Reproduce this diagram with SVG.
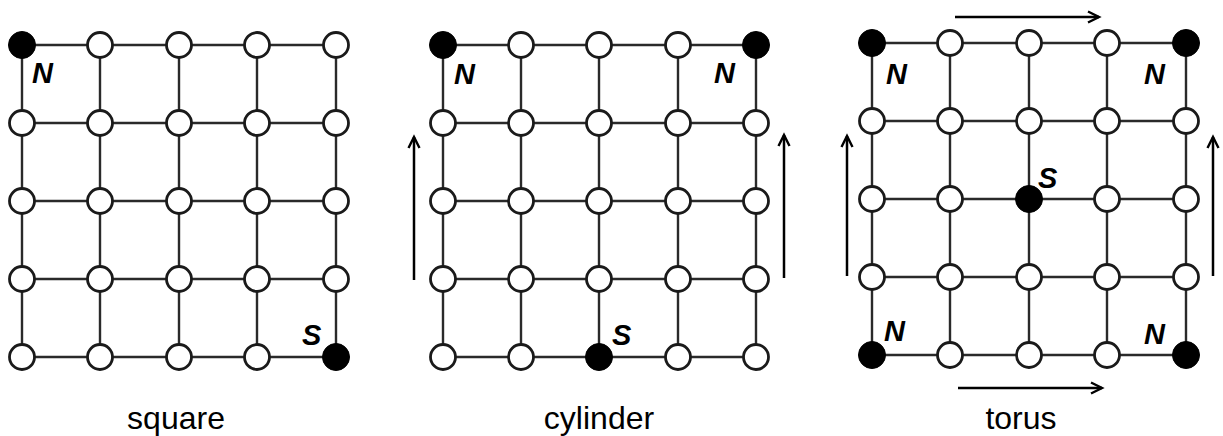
<svg xmlns="http://www.w3.org/2000/svg" width="1223" height="436" viewBox="0 0 1223 436">
<style>
.e{stroke:#2a2a2a;stroke-width:2.4;fill:none}
.n{fill:#fff;stroke:#1a1a1a;stroke-width:2.8}
.b{fill:#000;stroke:#000;stroke-width:1}
.a{stroke:#000;stroke-width:2.5;fill:none;marker-end:url(#ah)}
.lab{font-family:"Liberation Sans",Arial,sans-serif;font-weight:bold;font-style:italic;font-size:29px;fill:#000}
.cap{font-family:"Liberation Sans",Arial,sans-serif;font-size:32px;fill:#000;text-anchor:middle}
</style>
<defs>
<marker id="ah" markerUnits="userSpaceOnUse" markerWidth="16" markerHeight="16" viewBox="-12 -8 14 16" refX="0" refY="0" orient="auto">
<path d="M-11,-5.5 L0,0 L-11,5.5" fill="none" stroke="#000" stroke-width="2.4"/>
</marker>
</defs>
<rect width="1223" height="436" fill="#fff"/>
<g id="connectors">
<path class="e" d="M22,45H336M22,123H336M22,201H336M22,279H336M22,357H336M22,45V357M100,45V357M179,45V357M257,45V357M336,45V357"/>
<path class="e" d="M443,45H756M443,123H756M443,201H756M443,279H756M443,357H756M443,45V357M521,45V357M599,45V357M678,45V357M756,45V357"/>
<path class="e" d="M872,43H1186M872,121H1186M872,199H1186M872,277H1186M872,355H1186M872,43V355M950,43V355M1029,43V355M1107,43V355M1186,43V355"/>
<line class="a" x1="414" y1="280" x2="414" y2="137"/>
<line class="a" x1="784" y1="278" x2="784" y2="135"/>
<line class="a" x1="847" y1="276" x2="847" y2="136"/>
<line class="a" x1="1213" y1="276" x2="1213" y2="137"/>
<line class="a" x1="955" y1="17" x2="1099" y2="17"/>
<line class="a" x1="958" y1="388" x2="1102" y2="388"/>
</g>
<g id="square">
<g id="sq-r0"><circle class="b" cx="22" cy="45" r="13.5"/><circle class="n" cx="100" cy="45" r="12.5"/><circle class="n" cx="179" cy="45" r="12.5"/><circle class="n" cx="257" cy="45" r="12.5"/><circle class="n" cx="336" cy="45" r="12.5"/></g>
<g id="sq-r1"><circle class="n" cx="22" cy="123" r="12.5"/><circle class="n" cx="100" cy="123" r="12.5"/><circle class="n" cx="179" cy="123" r="12.5"/><circle class="n" cx="257" cy="123" r="12.5"/><circle class="n" cx="336" cy="123" r="12.5"/></g>
<g id="sq-r2"><circle class="n" cx="22" cy="201" r="12.5"/><circle class="n" cx="100" cy="201" r="12.5"/><circle class="n" cx="179" cy="201" r="12.5"/><circle class="n" cx="257" cy="201" r="12.5"/><circle class="n" cx="336" cy="201" r="12.5"/></g>
<g id="sq-r3"><circle class="n" cx="22" cy="279" r="12.5"/><circle class="n" cx="100" cy="279" r="12.5"/><circle class="n" cx="179" cy="279" r="12.5"/><circle class="n" cx="257" cy="279" r="12.5"/><circle class="n" cx="336" cy="279" r="12.5"/></g>
<g id="sq-r4"><circle class="n" cx="22" cy="357" r="12.5"/><circle class="n" cx="100" cy="357" r="12.5"/><circle class="n" cx="179" cy="357" r="12.5"/><circle class="n" cx="257" cy="357" r="12.5"/><circle class="b" cx="336" cy="357" r="13.5"/></g>
<text class="lab" x="32" y="83">N</text>
<text class="lab" x="302" y="345">S</text>
<text class="cap" x="176" y="429">square</text>
</g>
<g id="cylinder">
<g id="cy-r0"><circle class="b" cx="443" cy="45" r="13.5"/><circle class="n" cx="521" cy="45" r="12.5"/><circle class="n" cx="599" cy="45" r="12.5"/><circle class="n" cx="678" cy="45" r="12.5"/><circle class="b" cx="756" cy="45" r="13.5"/></g>
<g id="cy-r1"><circle class="n" cx="443" cy="123" r="12.5"/><circle class="n" cx="521" cy="123" r="12.5"/><circle class="n" cx="599" cy="123" r="12.5"/><circle class="n" cx="678" cy="123" r="12.5"/><circle class="n" cx="756" cy="123" r="12.5"/></g>
<g id="cy-r2"><circle class="n" cx="443" cy="201" r="12.5"/><circle class="n" cx="521" cy="201" r="12.5"/><circle class="n" cx="599" cy="201" r="12.5"/><circle class="n" cx="678" cy="201" r="12.5"/><circle class="n" cx="756" cy="201" r="12.5"/></g>
<g id="cy-r3"><circle class="n" cx="443" cy="279" r="12.5"/><circle class="n" cx="521" cy="279" r="12.5"/><circle class="n" cx="599" cy="279" r="12.5"/><circle class="n" cx="678" cy="279" r="12.5"/><circle class="n" cx="756" cy="279" r="12.5"/></g>
<g id="cy-r4"><circle class="n" cx="443" cy="357" r="12.5"/><circle class="n" cx="521" cy="357" r="12.5"/><circle class="b" cx="599" cy="357" r="13.5"/><circle class="n" cx="678" cy="357" r="12.5"/><circle class="n" cx="756" cy="357" r="12.5"/></g>
<text class="lab" x="454" y="84">N</text>
<text class="lab" x="714" y="83">N</text>
<text class="lab" x="612" y="345">S</text>
<text class="cap" x="599" y="429">cylinder</text>
</g>
<g id="torus">
<g id="to-r0"><circle class="b" cx="872" cy="43" r="13.5"/><circle class="n" cx="950" cy="43" r="12.5"/><circle class="n" cx="1029" cy="43" r="12.5"/><circle class="n" cx="1107" cy="43" r="12.5"/><circle class="b" cx="1186" cy="43" r="13.5"/></g>
<g id="to-r1"><circle class="n" cx="872" cy="121" r="12.5"/><circle class="n" cx="950" cy="121" r="12.5"/><circle class="n" cx="1029" cy="121" r="12.5"/><circle class="n" cx="1107" cy="121" r="12.5"/><circle class="n" cx="1186" cy="121" r="12.5"/></g>
<g id="to-r2"><circle class="n" cx="872" cy="199" r="12.5"/><circle class="n" cx="950" cy="199" r="12.5"/><circle class="b" cx="1029" cy="199" r="13.5"/><circle class="n" cx="1107" cy="199" r="12.5"/><circle class="n" cx="1186" cy="199" r="12.5"/></g>
<g id="to-r3"><circle class="n" cx="872" cy="277" r="12.5"/><circle class="n" cx="950" cy="277" r="12.5"/><circle class="n" cx="1029" cy="277" r="12.5"/><circle class="n" cx="1107" cy="277" r="12.5"/><circle class="n" cx="1186" cy="277" r="12.5"/></g>
<g id="to-r4"><circle class="b" cx="872" cy="355" r="13.5"/><circle class="n" cx="950" cy="355" r="12.5"/><circle class="n" cx="1029" cy="355" r="12.5"/><circle class="n" cx="1107" cy="355" r="12.5"/><circle class="b" cx="1186" cy="355" r="13.5"/></g>
<text class="lab" x="886" y="84">N</text>
<text class="lab" x="1144" y="84">N</text>
<text class="lab" x="884" y="341">N</text>
<text class="lab" x="1144" y="344">N</text>
<text class="lab" x="1038" y="188">S</text>
<text class="cap" x="1021" y="429">torus</text>
</g>
</svg>
